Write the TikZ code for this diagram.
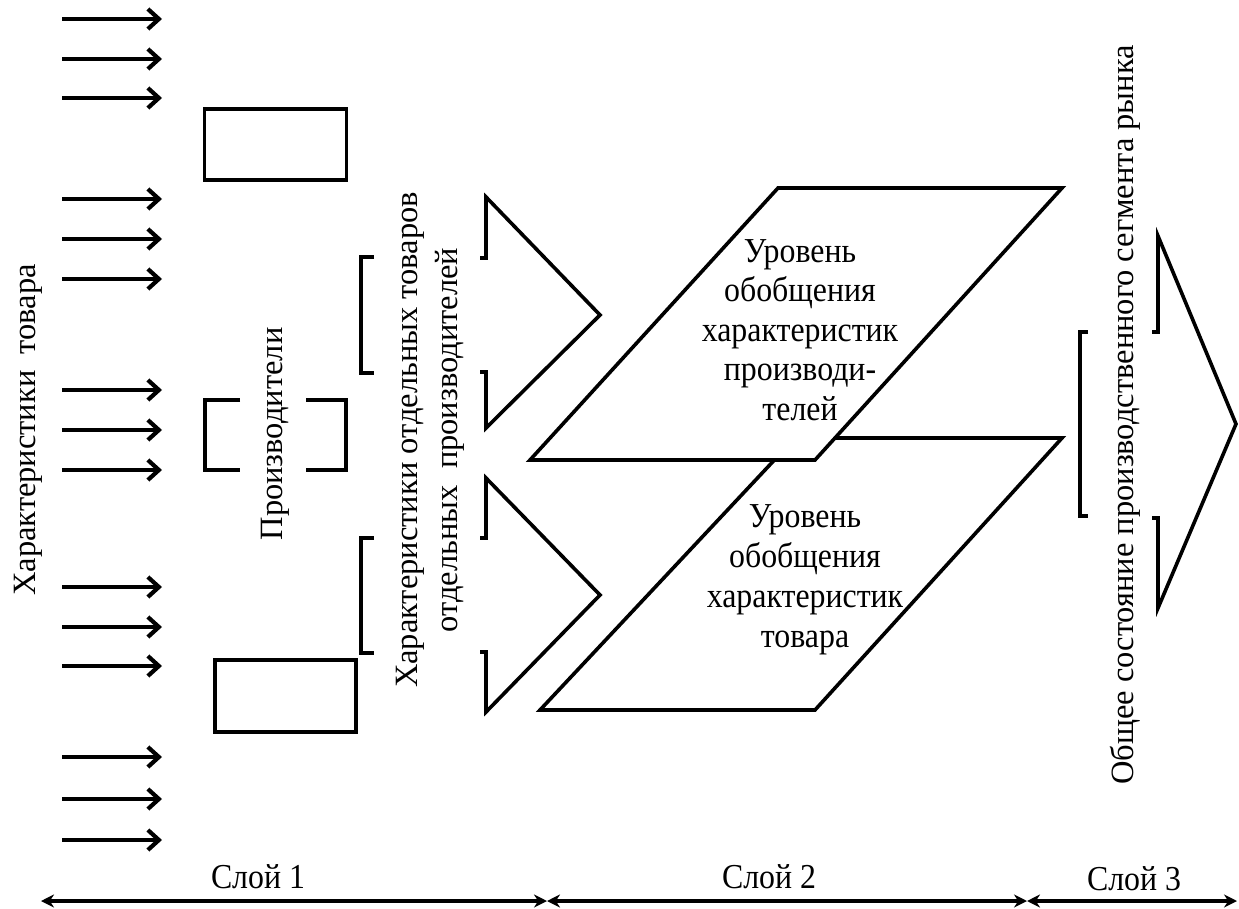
\documentclass[tikz,border=0pt]{standalone}
\usepackage{fontspec}
\setmainfont{Liberation Serif}
\newfontfamily\tnrh{Liberation Serif}[FakeStretch=0.91]
\newfontfamily\tnrv{Liberation Serif}
\usetikzlibrary{arrows.meta}
\begin{document}
\begin{tikzpicture}[x=1pt,y=-1pt,
  lw/.style={line width=3.6pt},
  inarrow/.style={line width=4.5pt,-{Straight Barb[length=11pt,width=20pt,line width=4.2pt]}},
  layerarrow/.style={line width=4.2pt,{Stealth[length=13pt,width=13pt]}-{Stealth[length=13pt,width=13pt]}},
  txt/.style={font=\tnrh\fontsize{35}{40}\selectfont,inner sep=0pt,align=center},
  vtxt/.style={font=\tnrv\fontsize{32.5}{40}\selectfont,inner sep=0pt,align=center,rotate=90},
  outline/.style={lw,line join=miter}]
\useasboundingbox (0,0) rectangle (1239,909);
% input arrows
\foreach \y [count=\i] in {19,59,98,199,239,279,390,430,470,587,627,666,757,799,840}{
  \coordinate (as\i) at (62,\y);
  \coordinate (ae\i) at (162,\y);
  \draw[inarrow] (as\i) -- (ae\i);
}
% rectangles
\node[draw,lw,minimum width=142pt,minimum height=71pt,inner sep=0pt] (r1) at (275.5,144.5) {};
\node[draw,lw,minimum width=141pt,minimum height=72pt,inner sep=0pt] (r2) at (285.5,696) {};
% brackets around producers
\draw[outline] (240,400) -- (205,400) -- (205,470) -- (240,470);
\draw[outline] (306,400) -- (346,400) -- (346,470) -- (306,470);
% brackets left of chevrons
\draw[outline] (374,257) -- (361,257) -- (361,373) -- (374,373);
\draw[outline] (374,538) -- (361,538) -- (361,653) -- (374,653);
% chevrons
\draw[outline] (480,258) -- (486,258) -- (486,197) -- (600,315) -- (486,428) -- (486,372) -- (480,372);
\draw[outline] (480,538) -- (486,538) -- (486,478) -- (600,595) -- (486,712) -- (486,652) -- (480,652);
% parallelograms
\draw[outline,fill=white] (540,710) -- (815,710) -- (1062,438) -- (795,438) -- cycle;
\draw[outline,fill=white] (530,460) -- (815,460) -- (1062,188) -- (778,188) -- cycle;
% right bracket and big arrow
\draw[outline] (1088,332) -- (1080,332) -- (1080,516) -- (1088,516);
\draw[outline] (1152,332) -- (1158,332) -- (1158,236) -- (1236,424) -- (1158,608) -- (1158,518) -- (1152,518);
% texts
\node[vtxt] (t1) at (28,430) {Характеристики~~товара};
\node[vtxt] (t2) at (275,434) {Производители};
\node[vtxt] (t3) at (430,440) {Характеристики отдельных товаров\\отдельных~~производителей};
\node[vtxt] (t4) at (1125,415) {Общее состояние производственного сегмента рынка};
\node[txt,font=\tnrh\fontsize{35}{39.5}\selectfont] (p1) at (800,330) {Уровень\\обобщения\\характеристик\\производи-\\телей};
\node[txt] (p2) at (805,580) {Уровень\\обобщения\\характеристик\\товара};
% layers
\node[txt] (l1) at (258,877) {Слой 1};
\node[txt] (l2) at (769,877) {Слой 2};
\node[txt] (l3) at (1134,879) {Слой 3};
\coordinate (b0) at (41,901);
\coordinate (b1) at (547,901);
\coordinate (b2) at (1027,901);
\coordinate (b3) at (1237,901);
\draw[layerarrow] (b0) -- (b1);
\draw[layerarrow] (b1) -- (b2);
\draw[layerarrow] (b2) -- (b3);
\end{tikzpicture}
\end{document}
